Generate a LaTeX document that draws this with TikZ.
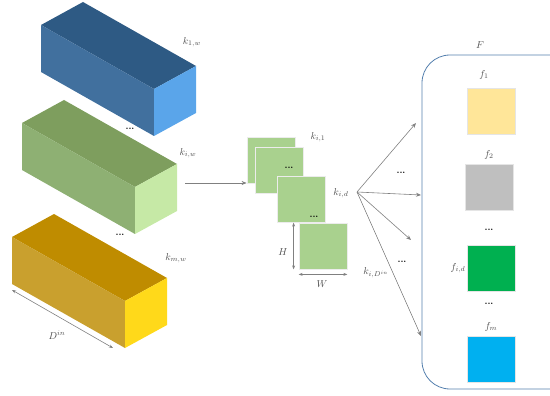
\documentclass[tikz,border=0pt]{standalone}
\usetikzlibrary{arrows.meta}
\definecolor{blueTop}{HTML}{2E5A84}
\definecolor{blueSide}{HTML}{41709E}
\definecolor{blueEnd}{HTML}{5AA5EA}
\definecolor{greenTop}{HTML}{7E9E5E}
\definecolor{greenSide}{HTML}{8EB073}
\definecolor{greenEnd}{HTML}{C6E9A6}
\definecolor{goldTop}{HTML}{BF8C00}
\definecolor{goldSide}{HTML}{C9A02E}
\definecolor{goldEnd}{HTML}{FFD91A}
\definecolor{sliceGreen}{HTML}{A9D18E}
\definecolor{mapYellow}{HTML}{FFE699}
\definecolor{mapGray}{HTML}{BFBFBF}
\definecolor{mapGreen}{HTML}{00B050}
\definecolor{mapBlue}{HTML}{00B0F0}
\definecolor{boxBlue}{HTML}{5580AE}
\begin{document}
\begin{tikzpicture}[x=1pt,y=-1pt,font=\normalsize,
    conn/.style={draw=gray,line width=0.6pt,-{Stealth[length=5pt,width=4pt]}},
    dim/.style={draw=gray,line width=0.6pt,{Stealth[length=4pt,width=3pt]}-{Stealth[length=4pt,width=3pt]}},
    slice/.style={draw=gray!15,line width=0.8pt,fill=sliceGreen,minimum width=48pt,minimum height=46pt,inner sep=0pt},
    fmap/.style={draw=gray!20,line width=0.8pt,minimum width=48pt,minimum height=46pt,inner sep=0pt},
    lbl/.style={text=black!70,inner sep=1pt},
    dots/.style={text=black,inner sep=0pt,font=\small\bfseries}]
  \useasboundingbox (0,0) rectangle (550,396);
  \clip (0,0) rectangle (550,396);
  % kernels as boxes
  \foreach \px/\py/\ct/\cs/\ce in {41/25/blueTop/blueSide/blueEnd,
                                   22/123/greenTop/greenSide/greenEnd,
                                   12/237/goldTop/goldSide/goldEnd}{
    \fill[\ct] (\px,\py) -- ++(113,64) -- ++(42,-23) -- ++(-113,-64) -- cycle;
    \fill[\cs] (\px,\py) -- ++(113,64) -- ++(0,47) -- ++(-113,-64) -- cycle;
    \fill[\ce] (\px+113,\py+64) -- ++(42,-23) -- ++(0,47) -- ++(-42,23) -- cycle;
  }
  \node[lbl] (kone) at (192,42) {$k_{1,w}$};
  \node[lbl] (ki) at (188,153) {$k_{i,w}$};
  \node[lbl] (km) at (176,258) {$k_{m,w}$};
  \node[dots] (dotsA) at (130,129) {...};
  \node[dots] (dotsB) at (120,235) {...};
  % depth
  \coordinate (dinA) at (12,290);
  \coordinate (dinB) at (113,348);
  \draw[dim] (dinA) -- (dinB);
  \node[lbl] (din) at (57,335) {$D^{in}$};
  % slices of k_i
  \coordinate (cut) at (185,183);
  \node[slice] (s1) at (271,160) {};
  \node[slice] (s2) at (279,170) {};
  \node[slice] (s3) at (301,199) {};
  \node[slice] (s4) at (323,246) {};
  \draw[conn] (cut) -- (s1.west |- cut);
  \node[dots] (dotsC) at (289,168) {...};
  \node[dots] (dotsD) at (314,217) {...};
  \node[lbl] (ks1) at (318,137) {$k_{i,1}$};
  \node[lbl] (ksd) at (341,193) {$k_{i,d}$};
  \node[lbl] (ksn) at (376,273) {$k_{i,D^{in}}$};
  \draw[dim] ([xshift=-5pt]s4.north west) -- ([xshift=-5pt]s4.south west);
  \draw[dim] ([yshift=-5pt]s4.south west) -- ([yshift=-5pt]s4.south east);
  \node[lbl] (hh) at (283,252) {$H$};
  \node[lbl] (ww) at (322,284) {$W$};
  % feature maps
  \draw[boxBlue,line width=0.8pt,rounded corners=28pt] (422,55) rectangle (580,389);
  \node[lbl] (ff) at (480,45) {$F$};
  \node[fmap,fill=mapYellow] (f1) at (491,111) {};
  \node[fmap,fill=mapGray] (f2) at (489,187) {};
  \node[fmap,fill=mapGreen] (fd) at (491,268) {};
  \node[fmap,fill=mapBlue] (fm) at (491,359) {};
  \node[lbl] at (484,75) {$f_1$};
  \node[lbl] at (489,155) {$f_2$};
  \node[dots] at (489,230) {...};
  \node[lbl,left] at (fd.west) {$f_{i,d}$};
  \node[dots] at (489,304) {...};
  \node[lbl] at (491,327) {$f_m$};
  % from k_{i,d} to the maps
  \coordinate (fan) at (357,192);
  \coordinate (toA) at (416,123);
  \coordinate (toB) at (421,195);
  \coordinate (toC) at (411,240);
  \coordinate (toD) at (421,336);
  \foreach \t in {toA,toB,toC,toD}
    \draw[conn] (fan) -- (\t);
  \node[dots] (dotsE) at (401,173) {...};
  \node[dots] (dotsF) at (402,262) {...};
\end{tikzpicture}
\end{document}
